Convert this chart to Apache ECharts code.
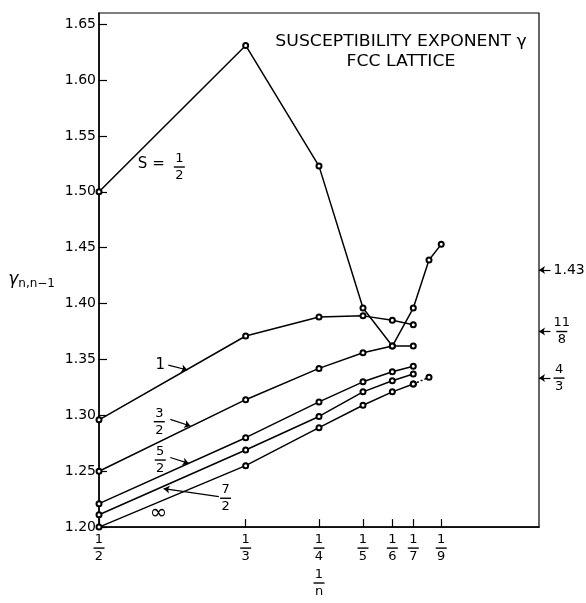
<!DOCTYPE html>
<html>
<head>
<meta charset="utf-8">
<script src="https://cdn.jsdelivr.net/npm/echarts@6/dist/echarts.min.js"></script>
<style>
  html, body { margin: 0; padding: 0; background: #fff; }
  #chart { width: 586px; height: 603px; }
</style>
</head>
<body>
<div id="chart"></div>
<script>
// values: gamma_{n,n-1} against 1/n
var nHalf = [2, 3, 4, 5, 6, 7, 8, 9];
var gammaHalf = [1.500, 1.631, 1.523, 1.396, 1.362, 1.396, 1.439, 1.453];
var nRest = [2, 3, 4, 5, 6, 7];
var gammaOne = [1.296, 1.371, 1.388, 1.389, 1.385, 1.381];
var gammaThreeHalves = [1.250, 1.314, 1.342, 1.356, 1.362, 1.362];
var gammaFiveHalves = [1.221, 1.280, 1.312, 1.330, 1.339, 1.344];
var gammaSevenHalves = [1.211, 1.269, 1.299, 1.321, 1.331, 1.337];
var gammaInf = [1.200, 1.255, 1.289, 1.309, 1.321, 1.328];
var nInfTail = [7, 8];
var gammaInfTail = [1.328, 1.334];

var xTickN = [2, 3, 4, 5, 6, 7, 9];
var yTicks = [1.20, 1.25, 1.30, 1.35, 1.40, 1.45, 1.50, 1.55, 1.60, 1.65];
var limitValues = [1.43, 11 / 8, 4 / 3];
var limitTexts = ['1.43', '11/8', '4/3'];

var FONT = 'DejaVu Sans';

function frac(str) {
	var p = str.split('/');
	if (p.length < 2) return str === '\u221e' ? '{inf|' + str + '}' : str;
	return '{n|' + p[0] + '}\n{b| }\n{d|' + p[1] + '}';
}
var fracRich = {
	n: { fontSize: 13, lineHeight: 13, align: 'center', fontFamily: FONT, color: '#000' },
	b: { width: 11, height: 1.4, lineHeight: 4, backgroundColor: '#000', align: 'center' },
	d: { fontSize: 13, lineHeight: 13, align: 'center', fontFamily: FONT, color: '#000' },
	inf: { fontSize: 21, fontFamily: FONT, color: '#000' }
};

function curve(name, ns, gs, dashed) {
	var pts = [];
	for (var i = 0; i < ns.length; i++) pts.push([1 / ns[i], gs[i]]);
	return {
		name: name,
		type: 'line',
		data: pts,
		symbol: 'emptyCircle',
		symbolSize: 5,
		showSymbol: true,
		itemStyle: { color: '#000', borderWidth: 1 },
		lineStyle: { color: '#000', width: 1.5, type: dashed ? [2, 2] : 'solid' },
		z: 3
	};
}

// curve labels (data coordinates)
var notes = [
	{ value: [0.4406, 1.5249], text: 'S =' },
	{ value: [0.4087, 1.5222], text: '1/2' },
	{ value: [0.4304, 1.3450], text: '1' },
	{ value: [0.4315, 1.2943], text: '3/2' },
	{ value: [0.4304, 1.2600], text: '5/2' },
	{ value: [0.3562, 1.2258], text: '7/2' },
	{ value: [0.4323, 1.2118], text: '\u221e' }
];
var pointers = [
	[[0.4212, 1.3450], [0.3995, 1.3406]],
	[[0.4190, 1.2964], [0.3961, 1.2905]],
	[[0.4190, 1.2623], [0.3980, 1.2570]],
	[[0.3638, 1.2273], [0.4266, 1.2344]]
];
for (var k = 0; k < limitValues.length; k++) {
	pointers.push([[-0.013, limitValues[k]], [0, limitValues[k]]]);
}

var noteData = notes.map(function(o) {
	return { value: o.value, name: o.text, label: { position: 'inside' } };
});
limitValues.forEach(function(v, i) {
	noteData.push({ value: [-0.0165, v], name: limitTexts[i], label: { position: 'right', distance: 0, fontSize: 14 } });
});

var series = [
	curve('S=1/2', nHalf, gammaHalf),
	curve('S=1', nRest, gammaOne),
	curve('S=3/2', nRest, gammaThreeHalves),
	curve('S=5/2', nRest, gammaFiveHalves),
	curve('S=7/2', nRest, gammaSevenHalves),
	curve('S=inf', nRest, gammaInf),
	curve('S=inf tail', nInfTail, gammaInfTail, true),
	{
		type: 'lines',
		coordinateSystem: 'cartesian2d',
		clip: false,
		symbol: ['none', 'arrow'],
		symbolSize: 6,
		lineStyle: { color: '#000', width: 1.2, opacity: 1 },
		data: pointers.map(function(c) { return { coords: c }; }),
		z: 4
	},
	{
		type: 'scatter',
		clip: false,
		symbolSize: 0,
		itemStyle: { color: '#000', opacity: 1 },
		data: noteData,
		label: {
			show: true,
			color: '#000',
			textBorderWidth: 0,
			fontFamily: FONT,
			fontSize: 15,
			formatter: function(p) { return frac(p.name); },
			rich: fracRich
		},
		z: 5
	}
];

var myChart = echarts.init(document.getElementById('chart'), null, { renderer: 'canvas' });
var option = {
	animation: false,
	backgroundColor: '#fff',
	grid: { left: 99, right: 47, top: 13, bottom: 73, show: true, borderColor: '#000', borderWidth: 1.2 },
	xAxis: {
		type: 'value',
		inverse: true,
		min: 0,
		max: 0.5,
		splitLine: { show: false },
		axisLine: { onZero: false, lineStyle: { color: '#000', width: 1.5 } },
		axisTick: { inside: true, length: 8, lineStyle: { color: '#000', width: 1.2 },
			customValues: xTickN.map(function(n) { return 1 / n; }) },
		axisLabel: {
			margin: 6,
			color: '#000',
			customValues: xTickN.map(function(n) { return 1 / n; }),
			formatter: function(v) { return frac('1/' + Math.round(1 / v)); },
			rich: fracRich
		},
		name: frac('1/n'),
		nameLocation: 'middle',
		nameGap: 38,
		nameTextStyle: { color: '#000', rich: fracRich }
	},
	yAxis: {
		type: 'value',
		min: 1.20,
		max: 1.66,
		splitLine: { show: false },
		axisLine: { onZero: false, lineStyle: { color: '#000', width: 1.5 } },
		axisTick: { inside: true, length: 8, lineStyle: { color: '#000', width: 1.2 }, customValues: yTicks },
		axisLabel: {
			margin: 3,
			color: '#000',
			fontFamily: FONT,
			fontSize: 14,
			customValues: yTicks,
			formatter: function(v) { return v.toFixed(2); }
		},
		name: '{g|\u03b3}{s|n,n\u22121}',
		nameLocation: 'middle',
		nameRotate: 0,
		nameGap: 44,
		nameTextStyle: {
			padding: [20, 0, 0, 0],
			rich: {
				g: { fontSize: 17, fontFamily: FONT, color: '#000', fontStyle: 'italic' },
				s: { fontSize: 12, fontFamily: FONT, color: '#000', padding: [8, 0, 0, 0] }
			}
		}
	},
	graphic: [
		{ type: 'text', x: 401, y: 35, scaleX: 1.15,
			style: { text: 'SUSCEPTIBILITY EXPONENT \u03b3', x: 0, y: 0, textAlign: 'center', textVerticalAlign: 'top', font: '15px "DejaVu Sans"', fill: '#000' } },
		{ type: 'text', x: 401, y: 55, scaleX: 1.15,
			style: { text: 'FCC LATTICE', x: 0, y: 0, textAlign: 'center', textVerticalAlign: 'top', font: '15px "DejaVu Sans"', fill: '#000' } }
	],
	series: series
};
myChart.setOption(option);
</script>
</body>
</html>
